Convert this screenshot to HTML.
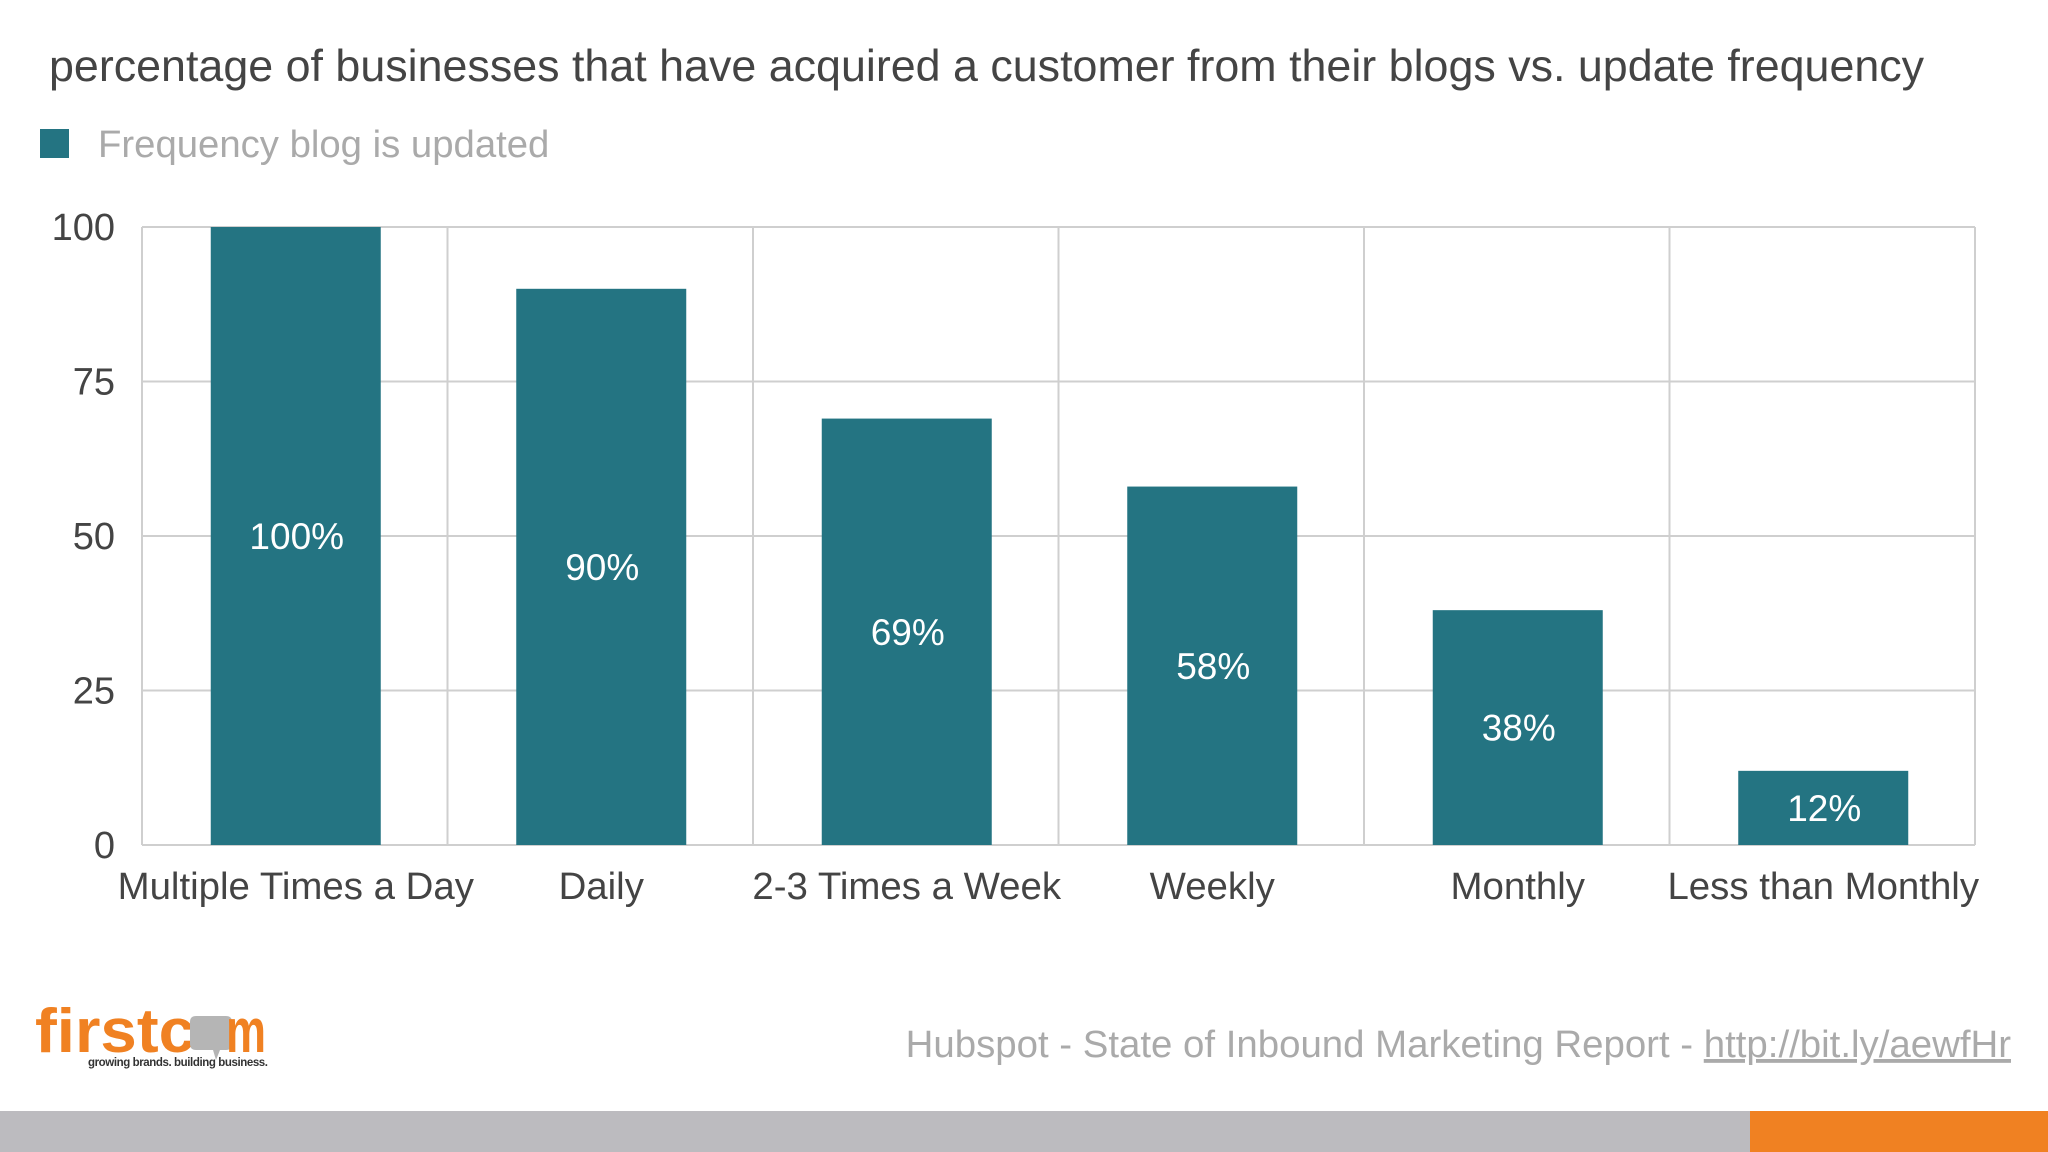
<!DOCTYPE html>
<html><head><meta charset="utf-8"><style>
body{margin:0;background:#fff;}
svg{display:block;font-family:"Liberation Sans",sans-serif;}
</style></head><body>
<svg id="c" width="2048" height="1152" viewBox="0 0 2048 1152">
<text x="49" y="81" font-size="44.8" fill="#444">percentage of businesses that have acquired a customer from their blogs vs. update frequency</text>
<rect x="40" y="129" width="29" height="29" fill="#247482"/>
<text x="98" y="157" font-size="38.3" fill="#aaa">Frequency blog is updated</text>
<g id="grid"></g><g id="bars"></g><g id="labels"></g>
<g>
<text x="35" y="1052" font-size="62" font-weight="bold" fill="#f08122" textLength="160" lengthAdjust="spacingAndGlyphs">firstc</text>
<path d="M196 1016 h30 q6 0 6 6 v22 q0 6 -6 6 h-6 l-4 10 l-3 -10 h-17 q-6 0 -6 -6 v-22 q0 -6 6 -6z" fill="#b5b5b5"/>
<text x="226" y="1052" font-size="62" font-weight="bold" fill="#f08122" textLength="40" lengthAdjust="spacingAndGlyphs">m</text>
<text x="88" y="1066" font-size="11.5" font-weight="bold" fill="#333" textLength="180">growing brands. building business.</text>
</g>
<text x="2011" y="1057" font-size="38.4" fill="#aaa" text-anchor="end">Hubspot - State of Inbound Marketing Report - <tspan text-decoration="underline">http://bit.ly/aewfHr</tspan></text>
<rect x="0" y="1111" width="1750" height="41" fill="#bcbbbf"/>
<rect x="1750" y="1111" width="298" height="41" fill="#f08122"/>
</svg>
<script>
const categories=["Multiple Times a Day","Daily","2-3 Times a Week","Weekly","Monthly","Less than Monthly"];
const values=[100,90,69,58,38,12];
const valueLabels=["100%","90%","69%","58%","38%","12%"];
const yTicks=[0,25,50,75,100];
const X0=142,X1=1975,Y0=845,Y1=227;
const NS="http://www.w3.org/2000/svg";
const bw=(X1-X0)/categories.length;
const y=v=>Y0-(v/100)*(Y0-Y1);
const xc=i=>X0+bw*(i+0.5);
function mk(t,a,p){const e=document.createElementNS(NS,t);for(const k in a)e.setAttribute(k,a[k]);p.appendChild(e);return e;}
const g=document.getElementById('grid'),b=document.getElementById('bars'),l=document.getElementById('labels');
yTicks.forEach(t=>{
 const ln=mk('line',{x1:X0,x2:X1,y1:y(t),y2:y(t),stroke:'#cfcfcf','stroke-width':2},g);
 
 
 const tx=mk('text',{x:115,y:y(t)+13,'font-size':38,fill:'#444','text-anchor':'end'},l);
 tx.textContent=t;
 
 
});
for(let i=0;i<=categories.length;i++){
 const ln=mk('line',{x1:X0+bw*i,x2:X0+bw*i,y1:Y1,y2:Y0,stroke:'#cfcfcf','stroke-width':2},g);
 
 
}
categories.forEach((c,i)=>{
 const w=170;
 const r=mk('rect',{x:xc(i)-w/2+1,y:y(values[i]),width:w,height:Y0-y(values[i]),fill:'#247482'},b);
 
 
 const v=mk('text',{x:xc(i)+2,y:(y(values[i])+Y0)/2+13,'font-size':37,fill:'#fff','text-anchor':'middle'},l);
 v.textContent=valueLabels[i];
 
 
 const t=mk('text',{x:xc(i)+1,y:899,'font-size':38.4,fill:'#444','text-anchor':'middle'},l);
 t.textContent=c;
 
 
});
</script>
</body></html>
